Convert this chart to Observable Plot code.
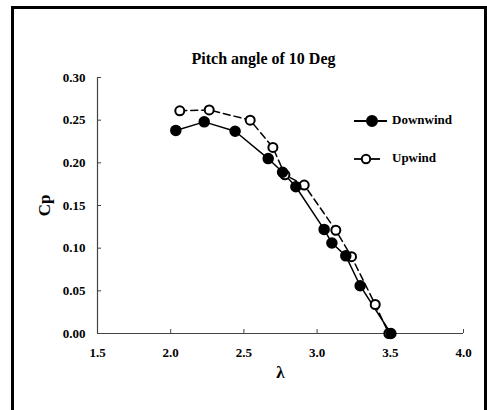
<!DOCTYPE html>
<html>
<head>
<meta charset="utf-8">
<script src="https://cdn.jsdelivr.net/npm/d3@7"></script>
<script src="https://cdn.jsdelivr.net/npm/@observablehq/plot@0.6"></script>
<style>
  html, body { margin: 0; padding: 0; background: #fff; overflow: hidden; }
  #wrap { position: relative; width: 487px; height: 410px; overflow: hidden; font-family: "Liberation Serif", "DejaVu Serif", serif; }
  #title { position: absolute; left: 0; width: 527px; top: 50px; text-align: center; font-weight: bold; font-size: 16px; color: #000; }
  .leg { position: absolute; font-weight: bold; font-size: 13px; color: #000; }
  #chart { position: absolute; left: 0; top: 0; }
  .bar { position: absolute; background: #000; }
</style>
</head>
<body>
<div id="wrap">
  <div id="chart"></div>
  <div class="bar" style="left:11px;top:6px;width:3px;height:404px"></div>
  <div class="bar" style="left:11px;top:6px;width:476px;height:3px"></div>
  <div class="bar" style="left:484px;top:6px;width:3px;height:404px"></div>
  <div id="title">Pitch angle of 10 Deg</div>
  <div id="legend"></div>
</div>
<script>
const downX = [2.035, 2.229, 2.440, 2.666, 2.764, 2.855, 3.048, 3.101, 3.196, 3.294, 3.504];
const downY = [0.238, 0.248, 0.237, 0.205, 0.189, 0.172, 0.122, 0.106, 0.091, 0.056, 0.000];
const upX = [2.062, 2.263, 2.543, 2.698, 2.780, 2.912, 3.128, 3.235, 3.397, 3.490];
const upY = [0.261, 0.262, 0.250, 0.218, 0.186, 0.174, 0.121, 0.090, 0.034, 0.000];
const xTicks = [1.5, 2.0, 2.5, 3.0, 3.5, 4.0];
const yTicks = [0.00, 0.05, 0.10, 0.15, 0.20, 0.25, 0.30];
const seriesNames = ["Downwind", "Upwind"];

const down = downX.map((x, i) => ({x, y: downY[i]}));
const up = upX.map((x, i) => ({x, y: upY[i]}));

const font = "Liberation Serif";
const chart = Plot.plot({
  width: 487,
  height: 410,
  marginLeft: 97,
  marginRight: 24,
  marginTop: 77,
  marginBottom: 77,
  style: {fontFamily: font, fontWeight: "bold", fontSize: "13px", background: "transparent", color: "#000"},
  x: {domain: [1.5, 4.0], label: "λ", labelAnchor: "center", labelArrow: "none"},
  y: {domain: [0, 0.30], label: "Cp", labelAnchor: "center", labelArrow: "none"},
  marks: [
    Plot.axisX({ticks: xTicks, tickSize: 0, tickPadding: 14, tickFormat: d3.format(".1f"), label: "λ", labelAnchor: "center", labelArrow: "none", labelOffset: 44, fontSize: 13, fontWeight: "bold", fill: "#000"}),
    Plot.axisX({ticks: xTicks, tickSize: 4, anchor: "bottom", tickFormat: () => "", label: null, dy: -4, stroke: "#444"}),
    Plot.axisY({ticks: yTicks, tickSize: 0, tickPadding: 12, tickFormat: d3.format(".2f"), label: "Cp", labelAnchor: "center", labelArrow: "none", labelOffset: 60, fontSize: 13, fontWeight: "bold", fill: "#000"}),
    Plot.axisY({ticks: yTicks, tickSize: 4, anchor: "left", tickFormat: () => "", label: null, dx: 4, stroke: "#444"}),
    Plot.ruleY([0], {stroke: "#444", strokeWidth: 1.2}),
    Plot.ruleX([1.5], {stroke: "#444", strokeWidth: 1.2}),
    Plot.line(up, {x: "x", y: "y", stroke: "#000", strokeWidth: 1.5, strokeDasharray: "7,4"}),
    Plot.line(down, {x: "x", y: "y", stroke: "#000", strokeWidth: 1.5}),
    Plot.dot(up, {x: "x", y: "y", r: 4.5, fill: "#fff", stroke: "#000", strokeWidth: 2}),
    Plot.dot(down, {x: "x", y: "y", r: 5, fill: "#000", stroke: "#000"})
  ]
});
d3.select(chart).selectAll("[aria-label='x-axis label'] text, [aria-label='y-axis label'] text")
  .style("font-size", "17px").attr("fill", "#000");
document.getElementById("chart").appendChild(chart);

// legend
const legend = document.getElementById("legend");
const ns = "http://www.w3.org/2000/svg";
const legendRows = [
  {name: seriesNames[0], top: 121, filled: true},
  {name: seriesNames[1], top: 159, filled: false}
];
legendRows.forEach(row => {
  const svg = document.createElementNS(ns, "svg");
  svg.setAttribute("width", 40); svg.setAttribute("height", 14);
  svg.style.position = "absolute"; svg.style.left = "353px"; svg.style.top = (row.top - 7) + "px";
  const l = document.createElementNS(ns, "line");
  l.setAttribute("x1", 1); l.setAttribute("x2", row.filled ? 34 : 27);
  l.setAttribute("y1", 7); l.setAttribute("y2", 7);
  l.setAttribute("stroke", "#000"); l.setAttribute("stroke-width", 1.8);
  svg.appendChild(l);
  const c = document.createElementNS(ns, "circle");
  c.setAttribute("cx", row.filled ? 19 : 13); c.setAttribute("cy", 7);
  c.setAttribute("r", row.filled ? 5 : 4.2);
  c.setAttribute("fill", row.filled ? "#000" : "#fff");
  c.setAttribute("stroke", "#000"); c.setAttribute("stroke-width", 2);
  svg.appendChild(c);
  legend.appendChild(svg);
  const t = document.createElement("div");
  t.className = "leg"; t.textContent = row.name;
  t.style.left = "392px"; t.style.top = (row.top - 9) + "px";
  legend.appendChild(t);
});
</script>
</body>
</html>
